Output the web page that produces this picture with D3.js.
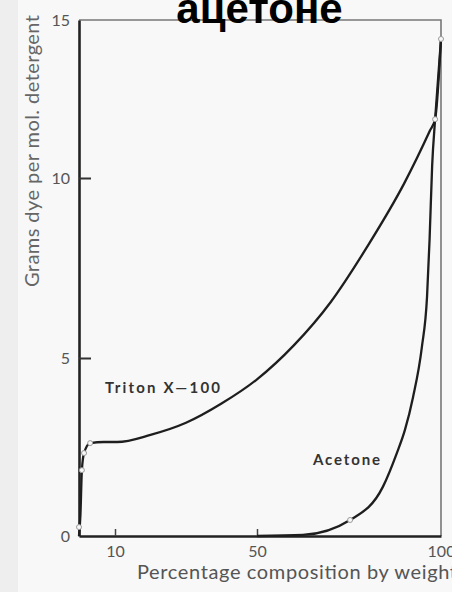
<!DOCTYPE html>
<html>
<head>
<meta charset="utf-8">
<title>ацетоне</title>
<script src="https://d3js.org/d3.v7.min.js"></script>
<style>
  body { margin: 0; background: #f7f7f7; }
  svg { display: block; }
  .tick text { font-family: Lato, "Open Sans", sans-serif; fill: #555; }
</style>
</head>
<body>
<svg width="452" height="592"></svg>
<script>
// values
var tritonX = [0, 0.4, 0.8, 1.4, 3.1, 6.9, 10.6, 20, 30, 40, 50, 60, 70, 80, 90, 97.0, 98.4, 100];
var tritonY = [0, 0.6, 1.85, 2.33, 2.61, 2.64, 2.64, 2.84, 3.18, 3.72, 4.4, 5.35, 6.55, 8.1, 9.85, 11.5, 11.86, 14.4];

var acetoneX = [50, 62.5, 75.3, 84.2, 88.0, 90.2, 92.4, 94.8, 96.2, 96.9, 97.6, 98.4, 100];
var acetoneY = [0, 0.03, 0.45, 1.38, 2.33, 2.98, 3.9, 5.3, 6.69, 8.3, 10.4, 11.86, 14.4];

// faint open circles (experimental points)
var pointX = [0, 0.8, 1.4, 3.1, 75.3, 98.4, 100];
var pointY = [0.25, 1.85, 2.33, 2.61, 0.45, 11.86, 14.4];

var xTicks = [10, 50, 100];
var yTicks = [0, 5, 10, 15];

var svg = d3.select("svg");

svg.append("rect")
    .attr("width", 452).attr("height", 592)
    .attr("fill", "#f8f8f8");
svg.append("rect")
    .attr("width", 18).attr("height", 592)
    .attr("fill", "#eeeeee");

// the scan is a little uneven, so the scales are piecewise
var x = d3.scaleLinear().domain([0, 10, 50, 100]).range([79, 115, 257, 441]);
var y = d3.scaleLinear().domain([0, 5, 10, 15]).range([536, 358, 178, 20]);

// top / right frame
svg.append("path")
    .attr("d", "M" + x(0) + "," + y(15) + "H" + x(100) + "V" + y(0))
    .attr("fill", "none")
    .attr("stroke", "#777")
    .attr("stroke-width", 1.6);

var yAxis = svg.append("g")
    .attr("transform", "translate(" + x(0) + ",0)")
    .call(d3.axisLeft(y).tickValues(yTicks).tickSizeInner(-12).tickSizeOuter(0).tickPadding(9));
yAxis.selectAll(".tick text").style("font-size", "16px");
yAxis.selectAll(".tick line")
    .attr("stroke", "#333").attr("stroke-width", 2)
    .filter(function(d) { return d === 0 || d === 15; }).remove();
yAxis.select(".domain").attr("stroke", "#222").attr("stroke-width", 2.6);

var xAxis = svg.append("g")
    .attr("transform", "translate(0," + y(0) + ")")
    .call(d3.axisBottom(x).tickValues(xTicks).tickSizeInner(-7).tickSizeOuter(0).tickPadding(10));
xAxis.selectAll(".tick text").style("font-size", "16px");
xAxis.selectAll(".tick line")
    .attr("stroke", "#444").attr("stroke-width", 1.5)
    .filter(function(d) { return d === 100; }).remove();
xAxis.select(".domain").attr("stroke", "#222").attr("stroke-width", 2.6);

var line = d3.line()
    .x(function(d) { return x(d[0]); })
    .y(function(d) { return y(d[1]); })
    .curve(d3.curveMonotoneX);

var series = [
    { name: "Triton X-100", pts: d3.zip(tritonX, tritonY) },
    { name: "Acetone", pts: d3.zip(acetoneX, acetoneY) }
];

svg.selectAll(".curve")
    .data(series)
    .enter().append("path")
    .attr("class", "curve")
    .attr("fill", "none")
    .attr("stroke", "#1e1e1e")
    .attr("stroke-width", 2.3)
    .attr("stroke-linejoin", "round")
    .attr("d", function(d) { return line(d.pts); });

svg.selectAll(".pt")
    .data(d3.zip(pointX, pointY))
    .enter().append("circle")
    .attr("class", "pt")
    .attr("cx", function(d) { return x(d[0]); })
    .attr("cy", function(d) { return y(d[1]); })
    .attr("r", 2.5)
    .attr("fill", "#f8f8f8")
    .attr("stroke", "#999")
    .attr("stroke-width", 1);

// curve labels
svg.append("text")
    .attr("x", 105).attr("y", 393)
    .attr("textLength", 115).attr("lengthAdjust", "spacing")
    .style("font-family", "Lato, sans-serif")
    .style("font-size", "15px")
    .style("font-weight", "bold")
    .attr("fill", "#333")
    .text("Triton X\u2014100");

svg.append("text")
    .attr("x", 313).attr("y", 465)
    .attr("textLength", 67).attr("lengthAdjust", "spacing")
    .style("font-family", "Lato, sans-serif")
    .style("font-size", "15px")
    .style("font-weight", "bold")
    .attr("fill", "#333")
    .text("Acetone");

// axis titles
svg.append("text")
    .attr("transform", "translate(39,287) rotate(-90)")
    .attr("textLength", 272).attr("lengthAdjust", "spacing")
    .style("font-family", "Lato, sans-serif")
    .style("font-size", "20px")
    .attr("fill", "#666")
    .text("Grams dye per mol. detergent");

svg.append("text")
    .attr("x", 137).attr("y", 579)
    .attr("textLength", 320).attr("lengthAdjust", "spacing")
    .style("font-family", "Lato, sans-serif")
    .style("font-size", "20px")
    .attr("fill", "#555")
    .text("Percentage composition by weight");

// title
svg.append("text")
    .attr("x", 259.5).attr("y", 23)
    .attr("text-anchor", "middle")
    .style("font-family", "\"Liberation Sans\", Arial, sans-serif")
    .style("font-size", "42px")
    .style("font-weight", "bold")
    .attr("fill", "#000")
    .text("ацетоне");
</script>
</body>
</html>
